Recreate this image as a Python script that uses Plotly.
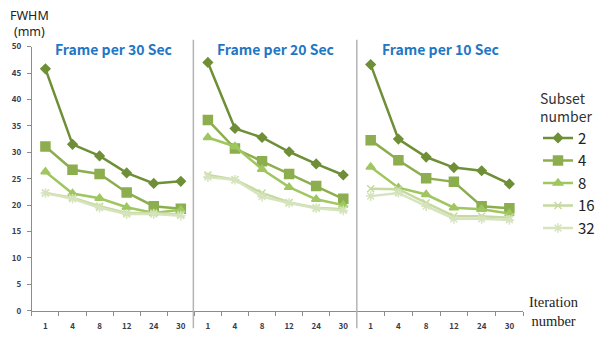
import plotly.graph_objects as go

# Iteration numbers (category axis) shared by the three panels
iterations = ["1", "4", "8", "12", "24", "30"]
panel_titles = ["Frame per 30 Sec", "Frame per 20 Sec", "Frame per 10 Sec"]
subsets = ["2", "4", "8", "16", "32"]

# FWHM (mm) per subset number, one list per panel
fwhm_30s = {
    "2":  [45.8, 31.5, 29.3, 26.1, 24.1, 24.5],
    "4":  [31.1, 26.7, 25.9, 22.4, 19.8, 19.3],
    "8":  [26.3, 22.2, 21.3, 19.6, 18.5, 19.1],
    "16": [22.3, 21.4, 19.8, 18.5, 18.5, 18.2],
    "32": [22.3, 21.2, 19.5, 18.3, 18.3, 18.0],
}
fwhm_20s = {
    "2":  [47.0, 34.5, 32.8, 30.1, 27.8, 25.7],
    "4":  [36.1, 30.7, 28.3, 25.9, 23.6, 21.2],
    "8":  [32.8, 31.1, 26.8, 23.4, 21.1, 20.0],
    "16": [25.7, 24.8, 22.3, 20.5, 19.5, 19.2],
    "32": [25.3, 24.8, 21.6, 20.4, 19.4, 19.0],
}
fwhm_10s = {
    "2":  [46.6, 32.5, 29.1, 27.1, 26.5, 24.0],
    "4":  [32.3, 28.5, 25.1, 24.4, 19.8, 19.4],
    "8":  [27.2, 23.3, 22.0, 19.5, 19.2, 18.4],
    "16": [23.1, 23.0, 20.4, 17.9, 17.9, 17.6],
    "32": [21.7, 22.3, 19.8, 17.4, 17.4, 17.2],
}
panels = [fwhm_30s, fwhm_20s, fwhm_10s]

colors = {"2": "#6F8F37", "4": "#8CAE4E", "8": "#9FC65F", "16": "#C6DA9F", "32": "#D6E4BE"}
symbols = {"2": "diamond", "4": "square", "8": "triangle-up", "16": "x-thin-open", "32": "asterisk-open"}
sizes = {"2": 7, "4": 9, "8": 8, "16": 7, "32": 8}

W, H = 600, 338


def px_x(v):
    return v / W


def px_y(v):
    return (H - v) / H


x_domains = [(32, 195), (195, 358), (358, 525)]
y_domain = [px_y(315), px_y(42)]

fig = go.Figure()

for i, data in enumerate(panels):
    xa = "x" if i == 0 else f"x{i + 1}"
    for s in subsets:
        fig.add_trace(go.Scatter(
            x=iterations, y=data[s], xaxis=xa, yaxis="y",
            mode="lines+markers", name=s, showlegend=(i == 0),
            line=dict(color=colors[s], width=2.5),
            marker=dict(symbol=symbols[s], size=sizes[s], color=colors[s],
                        line=dict(color=colors[s], width=1.5)),
        ))

tick_font = dict(family="Noto Sans CJK KR", size=8, color="#3a3a4a", weight="bold")
axis_common = dict(
    type="category", categoryorder="array", categoryarray=iterations,
    showgrid=False, zeroline=False, showline=True, linecolor="#8c8c8c", linewidth=1,
    ticks="outside", tickson="boundaries", ticklen=4, tickcolor="#8c8c8c",
    tickfont=tick_font, ticklabelstandoff=8, range=[-0.5, 5.5], fixedrange=True,
)

layout = dict(
    width=W, height=H, margin=dict(l=0, r=0, t=0, b=0),
    paper_bgcolor="white", plot_bgcolor="white",
    yaxis=dict(domain=y_domain, range=[0, 50], dtick=5, showgrid=False, zeroline=False,
               showline=True, linecolor="#8c8c8c", linewidth=1, ticks="outside",
               ticklen=4, tickcolor="#8c8c8c", tickfont=tick_font, anchor="x",
               ticklabelstandoff=4),
    showlegend=True,
    legend=dict(
        x=px_x(540), y=px_y(82), xanchor="left", yanchor="top",
        title=dict(text="Subset<br>number", side="top",
                   font=dict(family="Noto Sans CJK KR", size=14, color="#333")),
        font=dict(family="Noto Sans CJK KR", size=15, color="#222"),
        bgcolor="rgba(0,0,0,0)", tracegroupgap=0, itemwidth=30,
    ),
)
for i, (a, b) in enumerate(x_domains):
    key = "xaxis" if i == 0 else f"xaxis{i + 1}"
    layout[key] = dict(axis_common, domain=[px_x(a), px_x(b)], anchor="y")
fig.update_layout(**layout)

# Panel titles
for (a, b), title in zip(x_domains, panel_titles):
    fig.add_annotation(
        x=px_x((a + b) / 2), y=px_y(44), xref="paper", yref="paper",
        xanchor="center", yanchor="middle",
        text=f"<b>{title}</b>", showarrow=False,
        font=dict(family="Noto Sans CJK KR", size=14, color="#1F77C4"),
    )

# Panel separators
for xpos in (194, 358):
    fig.add_shape(type="line", xref="paper", yref="paper",
                  x0=px_x(xpos), x1=px_x(xpos), y0=px_y(35), y1=px_y(333),
                  line=dict(color="#b4b4b4", width=1.5))

# Axis captions
fig.add_annotation(x=px_x(30), y=px_y(18), xref="paper", yref="paper",
                   xanchor="center", yanchor="middle", align="center",
                   text="FWHM<br>(mm)", showarrow=False,
                   font=dict(family="Noto Sans", size=12.5, color="#222"))
fig.add_annotation(x=px_x(556), y=px_y(316), xref="paper", yref="paper",
                   xanchor="center", yanchor="middle",
                   text="Iteration<br>number", showarrow=False, align="center",
                   font=dict(family="Liberation Serif", size=14.5, color="#222"))

fig.write_html("out.html")
